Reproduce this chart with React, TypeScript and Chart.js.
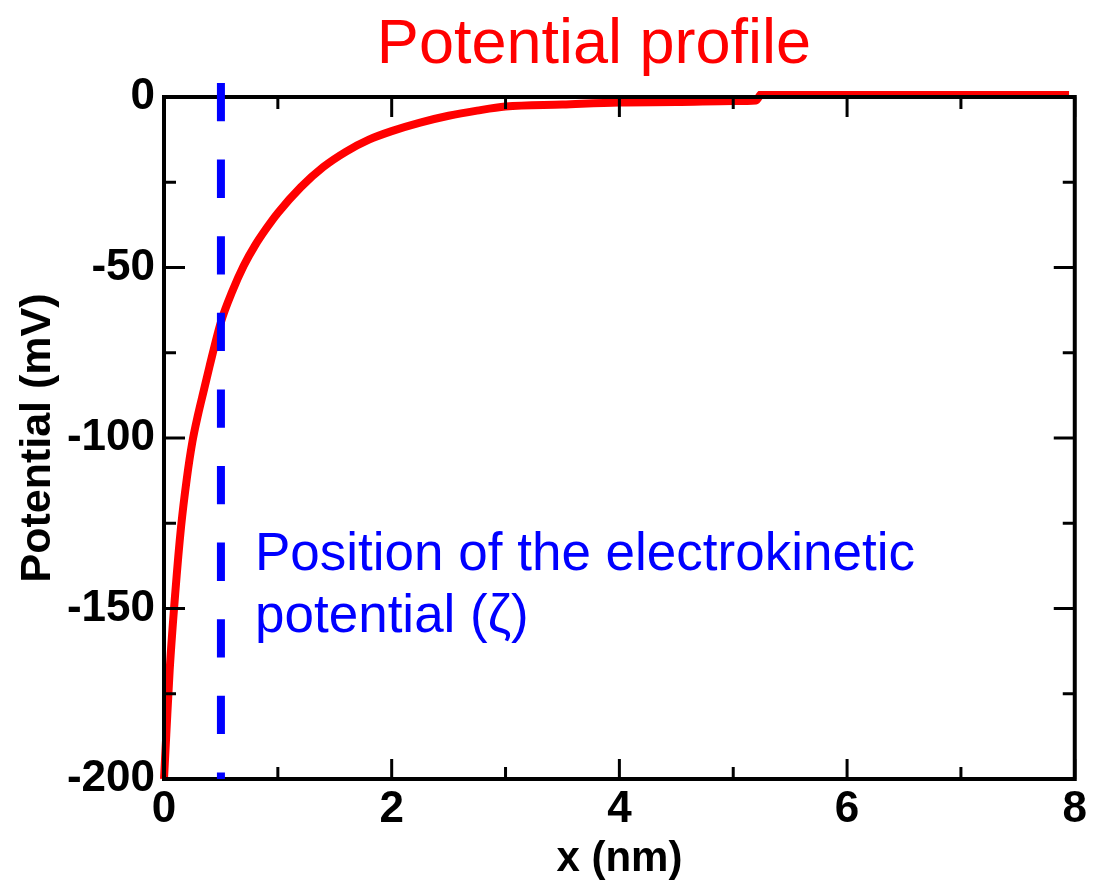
import { useEffect, useRef } from "react";
import { Chart, registerables } from "chart.js";

Chart.register(...registerables);

// Distance from the surface (nm) and potential (mV)
const xValues = [0, 0.02, 0.05, 0.1, 0.15, 0.2, 0.25, 0.3, 0.35, 0.4, 0.5, 0.6, 0.7, 0.8, 0.9, 1.0, 1.2, 1.4, 1.6, 1.8, 2.0, 2.25, 2.5, 2.75, 3.0, 3.5, 4.0, 4.5, 5.0, 5.2, 5.25, 6.0, 7.0, 7.95];
const potential = [-200, -187, -168, -145, -126, -112, -101, -93, -86, -79, -66, -57, -49.5, -43.5, -38.5, -34, -26.5, -20.5, -16, -12.5, -10, -7.5, -5.5, -4, -2.8, -2.2, -1.6, -1.5, -1.2, -1.0, 1.0, 1.0, 1.0, 1.0];

// Dashed marker: position of the electrokinetic (zeta) potential
const zetaX = [0.5, 0.5];
const zetaY = [4.1, -200];

// Axis ticks
const xMajorTicks = [0, 2, 4, 6, 8];
const xMinorTicks = [1, 3, 5, 7];
const yMajorTicks = [-200, -150, -100, -50, 0];
const yMinorTicks = [-175, -125, -75, -25];

const titleText = "Potential profile";
const noteLines = ["Position of the electrokinetic", "potential (\u03B6)"];
const xTitle = "x (nm)";
const yTitle = "Potential (mV)";

const FONT = '"Liberation Sans", Arial, Helvetica, sans-serif';
const RED_INDEX = 1;

const framePlugin = {
  id: "frameTicks",
  afterDatasetDraw(chart: any, args: any) {
    if (args.index !== RED_INDEX) return;
    const { ctx, chartArea, scales } = chart;
    const { left, right, top, bottom } = chartArea;
    ctx.save();
    ctx.strokeStyle = "#000";
    ctx.lineWidth = 4;
    ctx.strokeRect(left, top, right - left, bottom - top);
    ctx.lineWidth = 3;
    const tick = (x1: number, y1: number, x2: number, y2: number) => {
      ctx.beginPath();
      ctx.moveTo(x1, y1);
      ctx.lineTo(x2, y2);
      ctx.stroke();
    };
    const xs = scales.x;
    const ys = scales.y;
    xMajorTicks.forEach((v) => {
      const p = xs.getPixelForValue(v);
      tick(p, bottom, p, bottom - 20);
      tick(p, top, p, top + 20);
    });
    xMinorTicks.forEach((v) => {
      const p = xs.getPixelForValue(v);
      tick(p, bottom, p, bottom - 12);
      tick(p, top, p, top + 12);
    });
    yMajorTicks.forEach((v) => {
      const p = ys.getPixelForValue(v);
      tick(left, p, left + 21, p);
      tick(right, p, right - 21, p);
    });
    yMinorTicks.forEach((v) => {
      const p = ys.getPixelForValue(v);
      tick(left, p, left + 12, p);
      tick(right, p, right - 12, p);
    });
    ctx.restore();
  },
};

const textPlugin = {
  id: "textLabels",
  afterDraw(chart: any) {
    const { ctx } = chart;
    ctx.save();
    ctx.textBaseline = "alphabetic";
    ctx.fillStyle = "#ff0000";
    ctx.textAlign = "center";
    ctx.font = `63px ${FONT}`;
    ctx.fillText(titleText, 594, 63);
    ctx.fillStyle = "#0000ff";
    ctx.textAlign = "left";
    ctx.font = `53px ${FONT}`;
    ctx.fillText(noteLines[0], 255, 570);
    ctx.fillText(noteLines[1], 255, 632);
    ctx.restore();
  },
};

export default function App() {
  const canvasRef = useRef<HTMLCanvasElement | null>(null);

  useEffect(() => {
    const canvas = canvasRef.current;
    if (!canvas) return;
    const chart = new Chart(canvas, {
      type: "line",
      data: {
        datasets: [
          {
            label: "zeta",
            data: zetaX.map((x, i) => ({ x, y: zetaY[i] })),
            borderColor: "#0000ff",
            borderWidth: 8,
            borderDash: [38.3, 38.3],
            borderCapStyle: "butt",
            pointRadius: 0,
            fill: false,
            clip: false,
          },
          {
            label: "potential",
            data: xValues.map((x, i) => ({ x, y: potential[i] })),
            borderColor: "#ff0000",
            borderWidth: 8,
            pointRadius: 0,
            fill: false,
            cubicInterpolationMode: "monotone",
            clip: 6,
          },
        ],
      },
      options: {
        responsive: false,
        animation: false,
        devicePixelRatio: 1,
        layout: { padding: { left: 0, top: 97, right: 14, bottom: 0 } },
        plugins: {
          legend: { display: false },
          tooltip: { enabled: false },
          title: { display: false },
        },
        scales: {
          x: {
            type: "linear",
            min: 0,
            max: 8,
            grid: { display: false, drawTicks: false },
            border: { display: false },
            ticks: {
              stepSize: 2,
              color: "#000",
              padding: 9,
              font: { family: FONT, size: 44, weight: "bold", lineHeight: 1 },
            },
            title: {
              display: true,
              text: xTitle,
              color: "#000",
              padding: 0,
              font: { family: FONT, size: 42, weight: "bold", lineHeight: 1 },
            },
            afterFit: (s: any) => {
              s.height = 101;
            },
          },
          y: {
            type: "linear",
            min: -200,
            max: 0,
            grid: { display: false, drawTicks: false },
            border: { display: false },
            ticks: {
              stepSize: 50,
              color: "#000",
              padding: 9,
              font: { family: FONT, size: 44, weight: "bold", lineHeight: 1 },
            },
            title: {
              display: true,
              text: yTitle,
              color: "#000",
              padding: { top: 17, bottom: 0 },
              font: { family: FONT, size: 43, weight: "bold", lineHeight: 1 },
            },
            afterFit: (s: any) => {
              s.width = 164;
            },
          },
        },
      },
      plugins: [framePlugin, textPlugin],
    } as any);
    return () => chart.destroy();
  }, []);

  return (
    <div style={{ position: "absolute", left: 0, top: 0, width: 1096, height: 880, background: "#fff" }}>
      <canvas ref={canvasRef} width={1096} height={880} style={{ display: "block" }} />
    </div>
  );
}
